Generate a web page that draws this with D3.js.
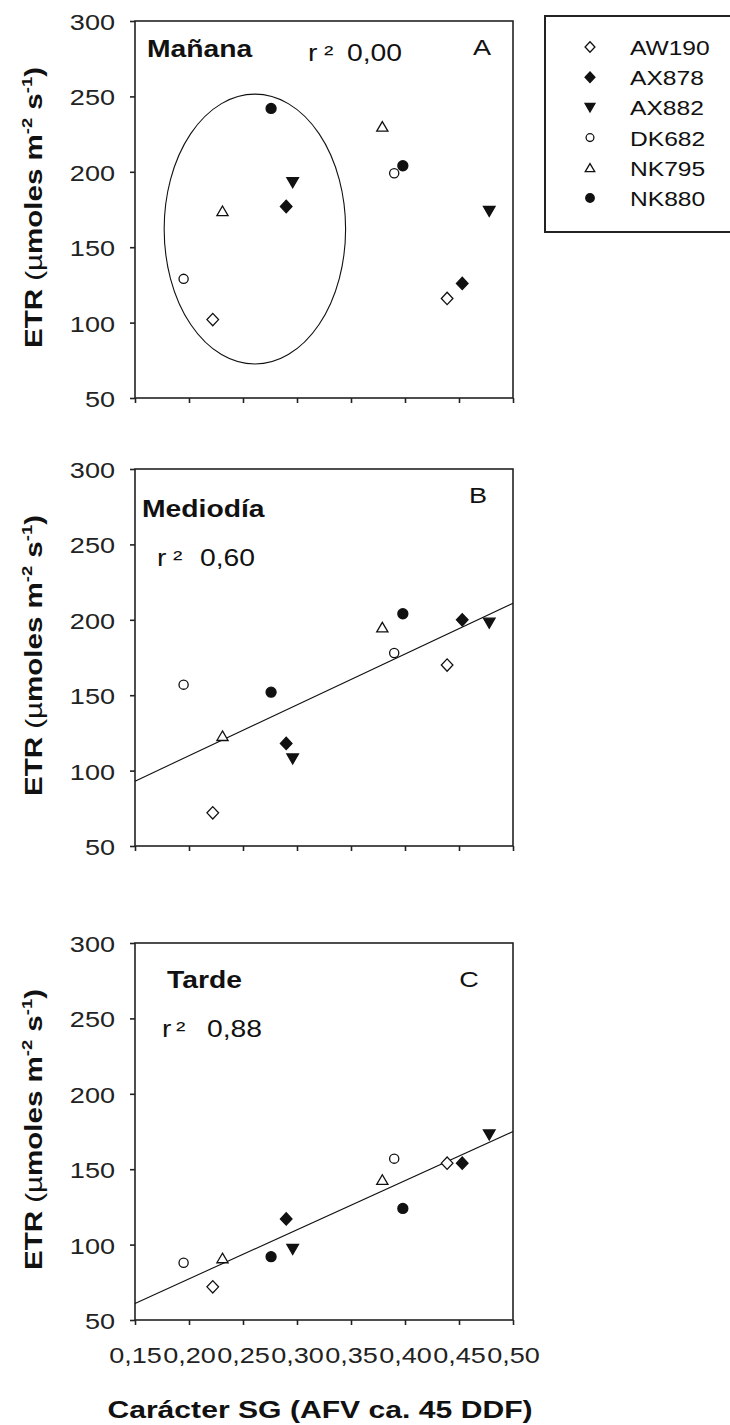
<!DOCTYPE html>
<html><head><meta charset="utf-8">
<script src="https://cdn.jsdelivr.net/npm/d3@7"></script>
<style>
html,body{margin:0;padding:0;background:#fff;}
svg{display:block;font-family:Arial,"Liberation Sans",sans-serif;}
</style></head><body>
<svg id="chart" width="730" height="1425"></svg>
<script>
// ---------- data ----------
const genotypes = ["AW190","AX878","AX882","DK682","NK795","NK880"];
// Carácter SG (two observations per genotype)
const sgLow  = [0.222, 0.290, 0.296, 0.195, 0.231, 0.276];
const sgHigh = [0.439, 0.453, 0.478, 0.390, 0.379, 0.398];
// ETR values per panel (same genotype order)
const etrMananaLow    = [102, 177, 193, 129, 174, 242];
const etrMananaHigh   = [116, 126, 174, 199, 230, 204];
const etrMediodiaLow  = [72, 118, 108, 157, 123, 152];
const etrMediodiaHigh = [170, 200, 198, 178, 195, 204];
const etrTardeLow     = [72, 117, 97, 88, 91, 92];
const etrTardeHigh    = [154, 154, 173, 157, 143, 124];
const panelNames   = ["Mañana", "Mediodía", "Tarde"];
const panelLetters = ["A", "B", "C"];
const r2Labels     = ["0,00", "0,60", "0,88"];
// fitted lines: ETR at SG = 0.15 and SG = 0.50 (none for Mañana)
const fitMediodia = [93, 211];
const fitTarde    = [61, 175];
// ellipse around the low group in panel A (SG extent, ETR extent)
const ellipseSG  = [0.177, 0.345];
const ellipseETR = [72.5, 251.5];
const yTicks = [50, 100, 150, 200, 250, 300];
const xTicks = [0.15, 0.20, 0.25, 0.30, 0.35, 0.40, 0.45, 0.50];
const xTickLabels = ["0,15","0,20","0,25","0,30","0,35","0,40","0,45","0,50"];

// ---------- layout ----------
const svg = d3.select("#chart");
const SX = 1.23;            // horizontal stretch of the reference lettering
const INK = "#111";
const plotLeft = 135, plotRight = 513, plotH = 377;
const panelTops = [21, 469, 943];
const x = d3.scaleLinear().domain([0.15, 0.50]).range([plotLeft, plotRight]);

function txt(parent, px, py, s, size, opts = {}) {
  return parent.append("text")
    .attr("transform", `translate(${px},${py}) scale(${SX},1)`)
    .attr("font-size", size)
    .attr("font-weight", opts.bold ? "bold" : "normal")
    .attr("text-anchor", opts.anchor || "start")
    .attr("fill", INK)
    .text(s);
}

const markerStyle = {
  AW190: {shape: "diamond", fill: false},
  AX878: {shape: "diamond", fill: true},
  AX882: {shape: "triDown", fill: true},
  DK682: {shape: "circle",  fill: false},
  NK795: {shape: "triUp",   fill: false},
  NK880: {shape: "circle",  fill: true}
};
function drawMarker(parent, cx, cy, g, k = 1) {
  const st = markerStyle[g];
  let el;
  if (st.shape === "circle") {
    el = parent.append("circle").attr("cx", cx).attr("cy", cy).attr("r", (st.fill ? 5 : 4.6) * k);
  } else {
    let d;
    if (st.shape === "diamond") d = `M0,${-6.2*k}L${5.8*k},0L0,${6.2*k}L${-5.8*k},0Z`;
    else if (st.shape === "triUp") d = `M0,${-5*k}L${5.6*k},${4.6*k}L${-5.6*k},${4.6*k}Z`;
    else d = `M${-5.8*k},${-4.6*k}L${5.8*k},${-4.6*k}L0,${5.4*k}Z`;
    el = parent.append("path").attr("d", d).attr("transform", `translate(${cx},${cy})`);
  }
  el.attr("fill", st.fill ? INK : "#fff").attr("stroke", INK).attr("stroke-width", 1.3);
}

const panels = [
  {low: etrMananaLow, high: etrMananaHigh, fit: null,
   title: [147, 36], r2: [308, 324, 347, 40], letter: [482, 34]},
  {low: etrMediodiaLow, high: etrMediodiaHigh, fit: fitMediodia,
   title: [142, 48], r2: [157, 173, 200, 97], letter: [478, 34]},
  {low: etrTardeLow, high: etrTardeHigh, fit: fitTarde,
   title: [167, 45], r2: [162, 176, 207, 94], letter: [469, 44]}
];

panels.forEach((p, i) => {
  const top = panelTops[i];
  const y = d3.scaleLinear().domain([50, 300]).range([top + plotH, top]);
  const g = svg.append("g");

  // frame
  g.append("rect").attr("x", plotLeft).attr("y", top)
    .attr("width", plotRight - plotLeft).attr("height", plotH)
    .attr("fill", "none").attr("stroke", "#222").attr("stroke-width", 1.6);

  // y axis
  const ya = g.append("g").attr("transform", `translate(${plotLeft},0)`)
    .call(d3.axisLeft(y).tickValues(yTicks).tickSize(5).tickSizeOuter(0));
  ya.select(".domain").remove();
  ya.selectAll(".tick line").attr("stroke", "#222").attr("stroke-width", 1.6);
  ya.selectAll(".tick text")
    .attr("x", 0).attr("dy", null).attr("y", 8.5)
    .attr("transform", `translate(-20,0) scale(${SX},1)`)
    .attr("text-anchor", "end").attr("font-size", 22)
    .attr("font-family", "Arial, 'Liberation Sans', sans-serif").attr("fill", "#222");

  // x axis
  const xa = g.append("g").attr("transform", `translate(0,${top + plotH})`)
    .call(d3.axisBottom(x).tickValues(xTicks).tickSize(5).tickSizeOuter(0)
      .tickFormat((d, j) => xTickLabels[j]));
  xa.select(".domain").remove();
  xa.selectAll(".tick line").attr("stroke", "#222").attr("stroke-width", 1.6);
  if (i === 2) {
    xa.selectAll(".tick text")
      .attr("x", 0).attr("dy", null).attr("y", 43)
      .attr("transform", `scale(${SX},1)`)
      .attr("text-anchor", "middle").attr("font-size", 22)
      .attr("font-family", "Arial, 'Liberation Sans', sans-serif").attr("fill", "#222");
  } else {
    xa.selectAll(".tick text").remove();
  }

  // y title
  const yt = g.append("g")
    .attr("transform", `translate(42,${top + plotH / 2 - 2}) rotate(-90)`)
    .append("text").attr("transform", `scale(${SX},1)`)
    .attr("text-anchor", "middle").attr("font-size", 24).attr("font-weight", "bold").attr("fill", INK);
  yt.append("tspan").text("ETR ");
  yt.append("tspan").attr("font-weight", "normal").text("(µ");
  yt.append("tspan").text("moles m");
  yt.append("tspan").attr("font-size", 15).attr("dy", -10).text("-2");
  yt.append("tspan").attr("dy", 10).text(" s");
  yt.append("tspan").attr("font-size", 15).attr("dy", -10).text("-1");
  yt.append("tspan").attr("dy", 10).text(")");

  // labels
  txt(g, p.title[0], top + p.title[1], panelNames[i], 23, {bold: true});
  txt(g, p.r2[0], top + p.r2[3], "r", 23);
  txt(g, p.r2[1], top + p.r2[3], "²", 23);
  txt(g, p.r2[2], top + p.r2[3], r2Labels[i], 23);
  txt(g, p.letter[0], top + p.letter[1], panelLetters[i], 22, {anchor: "middle"});

  // ellipse (panel A)
  if (i === 0) {
    const ex = ellipseSG.map(x), ey = ellipseETR.map(y);
    g.append("ellipse")
      .attr("cx", (ex[0] + ex[1]) / 2).attr("cy", (ey[0] + ey[1]) / 2)
      .attr("rx", Math.abs(ex[1] - ex[0]) / 2).attr("ry", Math.abs(ey[1] - ey[0]) / 2)
      .attr("fill", "none").attr("stroke", INK).attr("stroke-width", 1.1);
  }

  // regression line
  if (p.fit) {
    g.append("line")
      .attr("x1", x(0.15)).attr("y1", y(p.fit[0]))
      .attr("x2", x(0.50)).attr("y2", y(p.fit[1]))
      .attr("stroke", INK).attr("stroke-width", 1.1);
  }

  // points
  genotypes.forEach((gen, j) => {
    drawMarker(g, x(sgLow[j]), y(p.low[j]), gen);
    drawMarker(g, x(sgHigh[j]), y(p.high[j]), gen);
  });
});

// x title
txt(svg, 320, 1418, "Carácter SG (AFV ca. 45 DDF)", 24.5, {bold: true, anchor: "middle"});

// legend
const lg = svg.append("g");
lg.append("rect").attr("x", 545).attr("y", 16).attr("width", 200).attr("height", 216)
  .attr("fill", "none").attr("stroke", "#222").attr("stroke-width", 2);
genotypes.forEach((gen, j) => {
  const cy = 47 + j * 30.2;
  drawMarker(lg, 590, cy, gen, 0.85);
  txt(lg, 630, cy + 8, gen, 20);
});
</script>
</body></html>
